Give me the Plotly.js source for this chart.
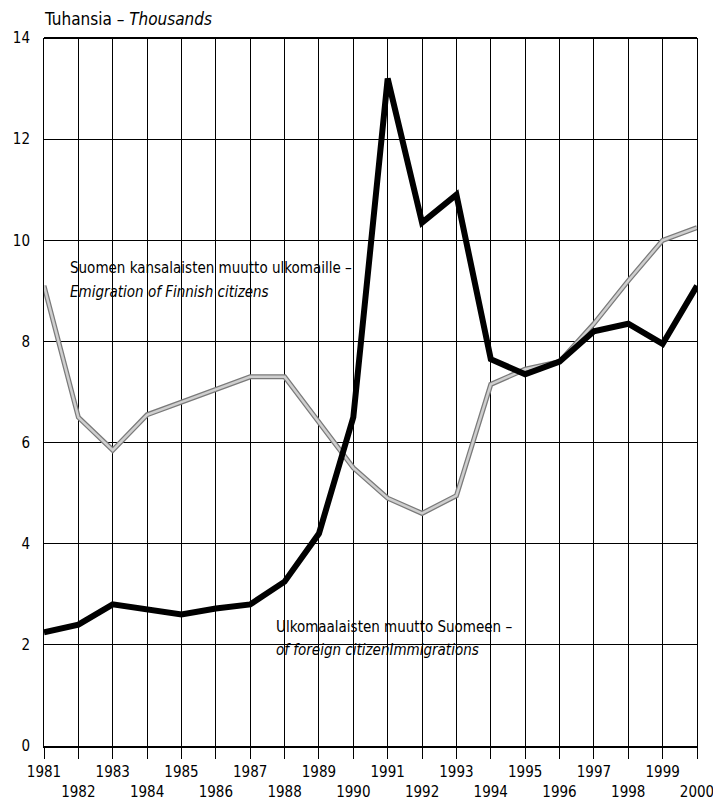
<!DOCTYPE html>
<html><head><meta charset="utf-8">
<script src="https://cdn.plot.ly/plotly-3.0.1.min.js"></script>
<style>body{margin:0;background:#fff}#c{width:713px;height:802px}</style>
</head><body><div id="c"></div>
<script>
const years = [1981,1982,1983,1984,1985,1986,1987,1988,1989,1990,1991,1992,1993,1994,1995,1996,1997,1998,1999,2000];
const immigration = [2.25,2.4,2.8,2.7,2.6,2.72,2.8,3.25,4.2,6.5,13.2,10.35,10.9,7.65,7.35,7.6,8.2,8.35,7.95,9.1];
const emigration = [9.1,6.5,5.85,6.55,6.8,7.05,7.3,7.3,6.4,5.5,4.9,4.6,4.95,7.15,7.45,7.6,8.35,9.2,10.0,10.25];
const tickLabels = years.map((y,i)=> i%2===0 ? String(y) : '<br>'+y);
const yTicks = [0,2,4,6,8,10,12,14];

const F = 'Liberation Sans Narrow, DejaVu Sans Condensed, Arial Narrow, sans-serif';

const traces = [
  {x: years, y: emigration, mode:'lines', line:{color:'#7a7a7a', width:5}, hoverinfo:'skip'},
  {x: years, y: emigration, mode:'lines', line:{color:'#cfcfcf', width:2.5}, hoverinfo:'skip'},
  {x: years, y: immigration, mode:'lines', line:{color:'#000', width:6}, hoverinfo:'skip'}
];

const layout = {
  width:713, height:802,
  margin:{l:44, r:16, t:38, b:56},
  paper_bgcolor:'#fff', plot_bgcolor:'#fff',
  showlegend:false,
  font:{family:F, size:14, color:'#000'},
  xaxis:{range:[1981,2000], tickvals:years, ticktext:tickLabels, tickangle:0,
    showgrid:true, gridcolor:'#000', gridwidth:1, zeroline:false,
    showline:true, linecolor:'#000', linewidth:2, mirror:false,
    ticks:'outside', ticklen:11, tickcolor:'#000', tickwidth:1,
    ticklabeloverflow:'allow',
    tickfont:{family:F, size:15}},
  yaxis:{range:[0,14], tickvals:yTicks, ticks:'', showgrid:true, gridcolor:'#000', gridwidth:1,
    zeroline:false, showline:true, linecolor:'#000', linewidth:1, mirror:true,
    tickfont:{family:F, size:15}, ticklabelstandoff:10},
  shapes:[
    {type:'line', xref:'paper', yref:'paper', x0:0, x1:1, y0:1, y1:1, line:{color:'#000', width:2}}
  ],
  annotations:[
    {xref:'paper', yref:'paper', x:-0.003, y:1.027, xanchor:'left', yanchor:'middle', showarrow:false,
      text:'Tuhansia – <i>Thousands</i>', font:{family:F, size:17}},
    {xref:'paper', yref:'paper', x:0.037, y:0.675, xanchor:'left', yanchor:'middle', showarrow:false,
      text:'Suomen kansalaisten muutto ulkomaille –', font:{family:F, size:15}},
    {xref:'paper', yref:'paper', x:0.037, y:0.641, xanchor:'left', yanchor:'middle', showarrow:false,
      text:'<i>Emigration of Finnish citizens</i>', font:{family:F, size:15}},
    {xref:'paper', yref:'paper', x:0.352, y:0.168, xanchor:'left', yanchor:'middle', showarrow:false,
      text:'Ulkomaalaisten muutto Suomeen –', font:{family:F, size:15}},
    {xref:'paper', yref:'paper', x:0.352, y:0.136, xanchor:'left', yanchor:'middle', showarrow:false,
      text:'<i>of foreign citizenImmigrations</i>', font:{family:F, size:15}}
  ]
};
Plotly.newPlot('c', traces, layout, {displayModeBar:false, staticPlot:true});
</script></body></html>
